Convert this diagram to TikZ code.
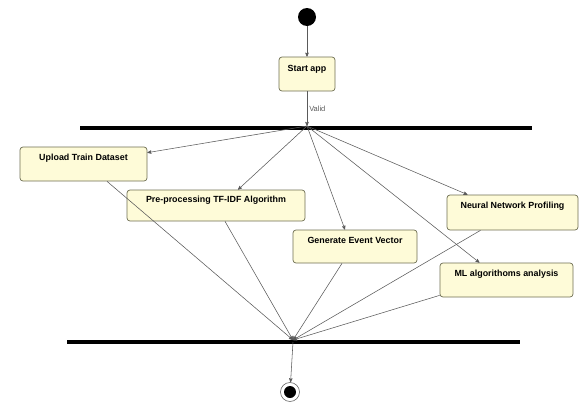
\documentclass[tikz,border=0pt]{standalone}
\usepackage{fontspec}
\setmainfont{Liberation Sans}
\usepackage{tikz}
\usetikzlibrary{shapes,arrows}
\usetikzlibrary{positioning}
\usetikzlibrary{calc}

\definecolor{actfill}{HTML}{FEFBD8}
\definecolor{actdraw}{HTML}{6E6E52}
\definecolor{flowgray}{HTML}{5A5A5A}

\begin{document}
\begin{tikzpicture}[x=1pt,y=-1pt,->,>=stealth',draw=flowgray,line width=0.55pt]
  \tikzset{
  actnode/.style = {rectangle, rounded corners=3pt, draw=actdraw, fill=actfill,
    line width=0.7pt, inner sep=0pt, font=\fontsize{8.9}{10}\selectfont\bfseries,
    text height=7pt, text depth=0pt},% activite
  act_u/.style = {actnode, minimum height=34pt},% boite, texte en haut
  bar_n/.style = {rectangle, fill=black, draw=none, inner sep=0pt,
    minimum height=4pt},% barre de synchronisation
  flow/.style = {draw=flowgray, ->}
}
\useasboundingbox (0,0) rectangle (579,402);

% debut et fin
\node [circle, fill=black, inner sep=0pt, minimum size=18pt] (start) at (307,17) {};
\node [circle, draw=flowgray, fill=white, inner sep=0pt, minimum size=19pt] (endo) at (290,392) {};
\node [circle, fill=black, inner sep=0pt, minimum size=12pt] (endi) at (290,392) {};

% activites
\node [act_u, minimum width=56pt] (startapp) at (307,74) {};
\node [actnode, fill=none, draw=none] at (307,68) {Start app};

\node [bar_n, minimum width=452pt] (topbar) at (306,128) {};
\node [bar_n, minimum width=453pt] (botbar) at (293.5,342) {};
\coordinate (fork) at (307,126);
\coordinate (join) at (293,340);

\node [act_u, minimum width=127pt] (upload) at (83.5,164) {};
\node [actnode, fill=none, draw=none] at (83.5,157) {Upload Train Dataset};
\node [act_u, minimum width=178pt, minimum height=31pt] (preproc) at (216,205.5) {};
\node [actnode, fill=none, draw=none] at (216,199) {Pre-processing TF-IDF Algorithm};
\node [act_u, minimum width=124pt, minimum height=33pt] (genvec) at (355,246.5) {};
\node [actnode, fill=none, draw=none] at (355,240) {Generate Event Vector};
\node [act_u, minimum width=131pt, minimum height=35pt] (neural) at (512.5,212.5) {};
\node [actnode, fill=none, draw=none] at (512.5,205) {Neural Network Profiling};
\node [act_u, minimum width=133pt] (mlalg) at (506.5,280) {};
\node [actnode, fill=none, draw=none] at (506.5,273) {ML algorithoms analysis};

% fleches
\draw [flow] (start) -- (startapp);
\draw [flow] (startapp) -- node[right, font=\fontsize{7.5}{8}\selectfont, text=flowgray, inner sep=2pt] {Valid} (fork);

\draw [flow] (fork) -- ([yshift=-6pt]upload.north east);
\draw [flow] (fork) -- ([xshift=22pt]preproc.north);
\draw [flow] (fork) -- ([xshift=-10pt]genvec.north);
\draw [flow] (fork) -- ([xshift=-45pt]neural.north);
\draw [flow] (fork) -- ([xshift=-27pt]mlalg.north);

\draw [flow] ([xshift=23.5pt]upload.south) -- (join);
\draw [flow] ([xshift=9pt]preproc.south) -- (join);
\draw [flow] ([xshift=-13pt]genvec.south) -- (join);
\draw [flow] ([xshift=-32pt]neural.south) -- (join);
\draw [flow] ([yshift=2pt]mlalg.south west) -- (join);

\draw [flow] ([yshift=-2pt]join) -- (endo);
\end{tikzpicture}
\end{document}
